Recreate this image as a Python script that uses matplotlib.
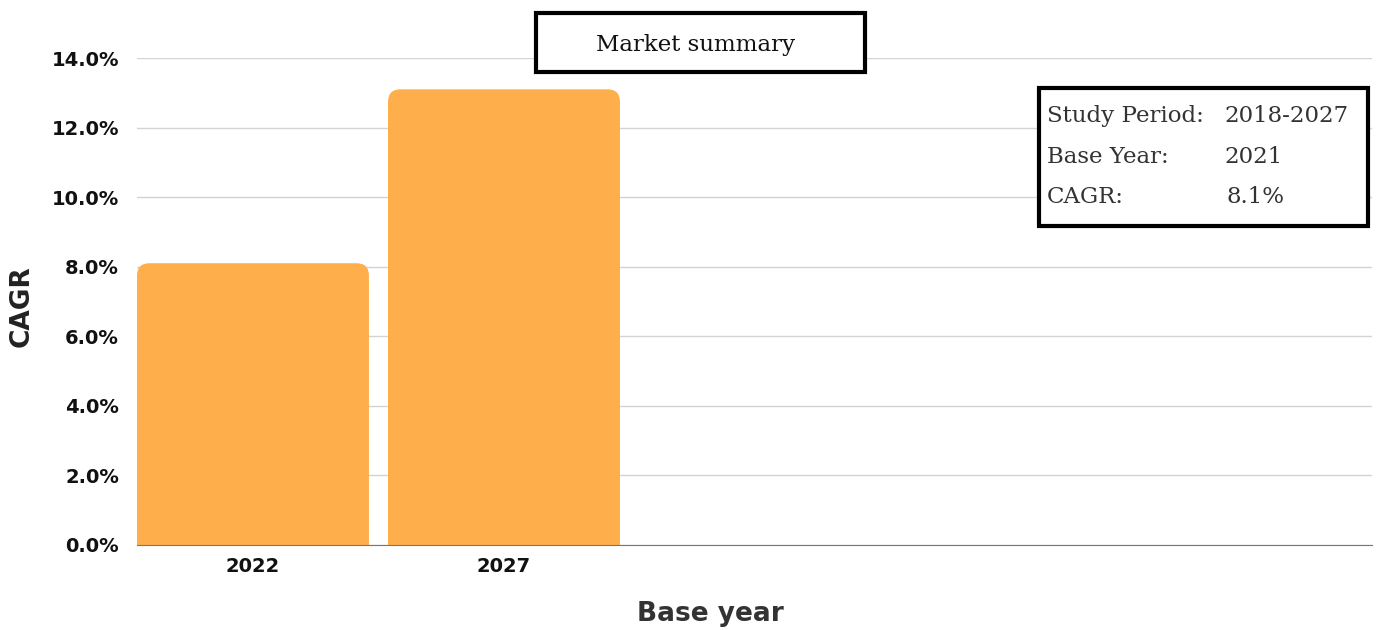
import matplotlib.pyplot as plt
from matplotlib.patches import FancyBboxPatch, Rectangle
from matplotlib.ticker import FuncFormatter

plt.rcParams["figure.dpi"] = 100
plt.rcParams["figure.facecolor"] = "white"

years = ["2022", "2027"]
cagr = [8.1, 13.1]
info_labels = ["Study Period:", "Base Year:", "CAGR:"]
info_values = ["2018-2027", "2021", "8.1%"]

bar_color = "#FEAE4A"
sans = ["DejaVu Sans"]
serif = ["DejaVu Serif"]

fig = plt.figure(figsize=(13.79, 6.30))
ax = fig.add_axes([137 / 1379, 1 - 545 / 630, (1372 - 137) / 1379, (545 - 58) / 630])

bars = ax.bar(range(len(years)), cagr, width=0.924, color=bar_color)
# swap plain bars for ones with rounded top corners
for b in bars:
    x, w, h = b.get_x(), b.get_width(), b.get_height()
    b.set_visible(False)
    ax.add_patch(FancyBboxPatch((x, -1), w, h + 1,
                                boxstyle="round,pad=0,rounding_size=0.05",
                                mutation_aspect=7.2, facecolor=bar_color,
                                edgecolor="none", zorder=3))

ax.set_xlim(-0.462, 4.458)
ax.set_ylim(0, 14)
ax.set_yticks(range(0, 15, 2))
ax.yaxis.set_major_formatter(FuncFormatter(lambda v, p: f"{v:.1f}%"))
ax.set_xticks(range(len(years)))
ax.set_xticklabels(years)
ax.grid(axis="y", color="#d3d3d3", linewidth=1)
ax.set_axisbelow(True)
for s in ["top", "right", "left"]:
    ax.spines[s].set_visible(False)
ax.spines["bottom"].set_color("#777777")
ax.spines["bottom"].set_zorder(4)
ax.tick_params(axis="y", length=0, pad=13)
ax.tick_params(axis="x", length=0, pad=9)
for t in ax.get_yticklabels() + ax.get_xticklabels():
    t.set_family(sans)
    t.set_fontweight("bold")
    t.set_fontsize(14)
    t.set_color("#111111")

fig.text(22 / 1379, 1 - 306 / 630, "CAGR", rotation=90, ha="center", va="center",
         family=sans, fontweight="bold", fontsize=19, color="#222222")
fig.text(710 / 1379, 1 - 614 / 630, "Base year", ha="center", va="center",
         family=sans, fontweight="bold", fontsize=19, color="#333333")

# title box
fig.patches.append(Rectangle((536 / 1379, 1 - 72 / 630), (865 - 536) / 1379, (72 - 13) / 630,
                             transform=fig.transFigure, facecolor="white",
                             edgecolor="black", linewidth=3, zorder=5))
fig.text(696 / 1379, 1 - 45 / 630, "Market summary", ha="center", va="center",
         family=serif, fontsize=16.5, color="#111111", zorder=6)

# info box
fig.patches.append(Rectangle((1039 / 1379, 1 - 226 / 630), (1368 - 1039) / 1379, (226 - 88) / 630,
                             transform=fig.transFigure, facecolor="white",
                             edgecolor="black", linewidth=3, zorder=5))
rows_y = [116, 157, 197]
value_x = [1224, 1224, 1227]
for lab, val, yy, vx in zip(info_labels, info_values, rows_y, value_x):
    fig.text(1047 / 1379, 1 - yy / 630, lab, ha="left", va="center",
             family=serif, fontsize=16.5, color="#333333", zorder=6)
    fig.text(vx / 1379, 1 - yy / 630, val, ha="left", va="center",
             family=serif, fontsize=16.5, color="#333333", zorder=6)

fig.savefig("out.png")
